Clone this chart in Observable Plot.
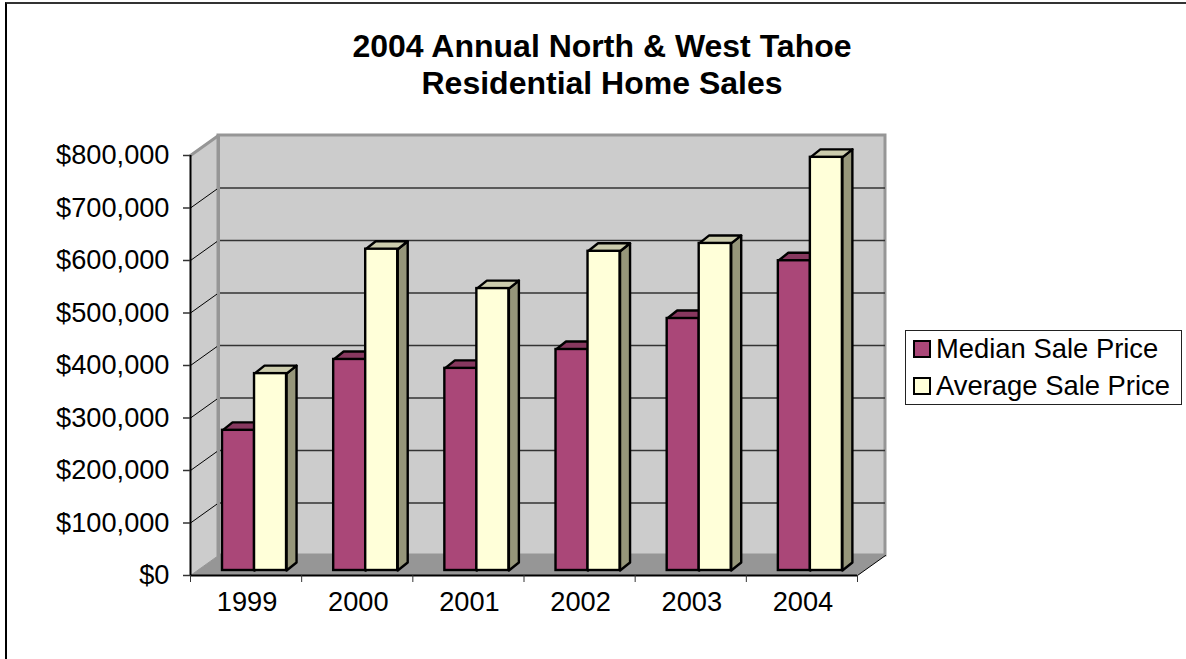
<!DOCTYPE html>
<html>
<head>
<meta charset="utf-8">
<script src="https://cdn.jsdelivr.net/npm/d3@7"></script>
<script src="https://cdn.jsdelivr.net/npm/@observablehq/plot@0.6"></script>
<style>
html,body{margin:0;padding:0;background:#fff;overflow:hidden}
#page{position:relative;width:1186px;height:659px;font-family:"Liberation Sans",Arial,sans-serif;color:#000}
#frame{position:absolute;left:5px;top:2px;right:0;bottom:0;border-top:2px solid #333;border-left:2px solid #000}
#title{position:absolute;left:218px;width:768px;top:28px;text-align:center;font-weight:bold;font-size:32px;line-height:37px}
#legend{position:absolute;left:905px;top:330px;width:275px;height:73px;border:1px solid #222;background:#fff;font-size:27.4px}
.row{position:absolute;left:7px;display:flex;align-items:center;height:24px;white-space:nowrap}
.sw{width:14px;height:14px;border:2px solid #000;margin-right:5px;display:inline-block}
#chart{position:absolute;left:0;top:0}
</style>
</head>
<body>
<div id="page">
<div id="frame"></div>
<div id="chart"></div>
<div id="title">2004 Annual North &amp; West Tahoe<br>Residential Home Sales</div>
<div id="legend"></div>
</div>
<script>
const years = ["1999","2000","2001","2002","2003","2004"];
const medianPrice = [267000,402000,385000,421000,480000,590000];
const averagePrice = [375000,612000,537000,608000,623000,787000];
const seriesNames = ["Median Sale Price","Average Sale Price"];
const seriesFront = ["#AA4778","#FFFFD9"];
const seriesTop = ["#87385F","#CCCCAD"];
const seriesSide = ["#7F3559","#96967A"];
const gridValues = [0,100000,200000,300000,400000,500000,600000,700000,800000];
const yMax = 800000;
const wallDX = 28/111.17, wallDY = 38095;       // chart depth in scale units
const barDX = 10/111.17, barDY = 15238;         // bar depth in scale units
const lift = 9524;                              // bars stand inside the floor
const barStart = 0.288, barW = 0.288;

const poly = (id, pts) => pts.map(([x,y]) => ({id,x,y}));
const wallBack = [{x1:wallDX,x2:6+wallDX,y1:wallDY,y2:yMax+wallDY}];
const floor = poly("floor",[[0,0],[6,0],[6+wallDX,wallDY],[wallDX,wallDY],[0,0]]);
const leftWall = poly("left",[[0,0],[0,yMax],[wallDX,yMax+wallDY],[wallDX,wallDY],[0,0]]);

const bars = [];
years.forEach((yr,i) => {
  [medianPrice[i],averagePrice[i]].forEach((v,s) => {
    const x0 = i+barStart+s*barW, x1 = x0+barW, b = lift, t = v+lift;
    bars.push({s,i,x0,x1,b,t});
  });
});
const faceMarks = [];
bars.forEach(d => {
  const side = poly("s",[[d.x1,d.b],[d.x1,d.t],[d.x1+barDX,d.t+barDY],[d.x1+barDX,d.b+barDY],[d.x1,d.b]]);
  const top = poly("t",[[d.x0,d.t],[d.x1,d.t],[d.x1+barDX,d.t+barDY],[d.x0+barDX,d.t+barDY],[d.x0,d.t]]);
  faceMarks.push(
    Plot.line(side,{x:"x",y:"y",fill:seriesSide[d.s],stroke:"#000",strokeWidth:2.4,curve:"linear"}),
    Plot.line(top,{x:"x",y:"y",fill:seriesTop[d.s],stroke:"#000",strokeWidth:2.4,curve:"linear"}),
    Plot.rect([d],{x1:"x0",x2:"x1",y1:"b",y2:"t",fill:seriesFront[d.s],stroke:"#000",strokeWidth:2.4})
  );
});

const chart = Plot.plot({
  width:1186, height:659,
  marginLeft:190, marginRight:329, marginTop:155, marginBottom:84,
  style:{background:"transparent",fontFamily:'"Liberation Sans",Arial,sans-serif',fontSize:"27.2px",color:"#000",overflow:"visible"},
  x:{type:"linear",domain:[0,6],range:[190,857],axis:null},
  y:{type:"linear",domain:[0,yMax],range:[575,155],axis:null},
  marks:[
    Plot.line(leftWall,{x:"x",y:"y",fill:"#CCCCCC",stroke:"none"}),
    Plot.rect(wallBack,{x1:"x1",x2:"x2",y1:"y1",y2:"y2",fill:"#CCCCCC",stroke:"#969696",strokeWidth:3}),
    Plot.line(floor,{x:"x",y:"y",fill:"#969696",stroke:"none"}),
    // back-wall gridlines
    Plot.ruleY(gridValues.slice(1,-1).map(v=>v+wallDY),{x1:wallDX,x2:6+wallDX,stroke:"#333",strokeWidth:1.5}),
    // gridlines carried across the left wall
    ...gridValues.slice(1,-1).map(v=>Plot.line([[0,v],[wallDX,v+wallDY]],{stroke:"#000",strokeWidth:1})),
    Plot.line([[0,yMax],[wallDX,yMax+wallDY]],{stroke:"#969696",strokeWidth:3}),
    Plot.line([[wallDX,wallDY],[wallDX,yMax+wallDY]],{stroke:"#969696",strokeWidth:3}),
    Plot.line([[0,0],[wallDX,wallDY]],{stroke:"#969696",strokeWidth:1}),
    Plot.line([[6,0],[6+wallDX,wallDY]],{stroke:"#000",strokeWidth:1}),
    ...faceMarks,
    Plot.ruleX([0],{y1:0,y2:yMax,stroke:"#000",strokeWidth:2}),
    Plot.ruleY([0],{x1:0,x2:6,stroke:"#000",strokeWidth:2}),
    Plot.axisY({anchor:"left",ticks:gridValues,tickFormat:d3.format("$,"),tickSize:7,tickPadding:14,stroke:"#333",strokeWidth:1.5,fill:"#000",fontSize:27.2,label:null}),
    Plot.axisX({anchor:"bottom",ticks:d3.range(0,7),tickFormat:()=>"",tickSize:7,stroke:"#333",strokeWidth:1,label:null}),
    Plot.text(years,{x:(d,i)=>i+0.5,y:()=>0,text:d=>d,dy:27,dx:1,fill:"#000",fontSize:27.2})
  ]
});
document.getElementById("chart").appendChild(chart);

const legend = document.getElementById("legend");
seriesNames.forEach((n,i) => {
  const r = document.createElement("div");
  r.className = "row";
  r.style.top = (6+i*37)+"px";
  const s = document.createElement("span");
  s.className = "sw"; s.style.background = seriesFront[i];
  r.appendChild(s);
  r.appendChild(document.createTextNode(n));
  legend.appendChild(r);
});
</script>
</body>
</html>
